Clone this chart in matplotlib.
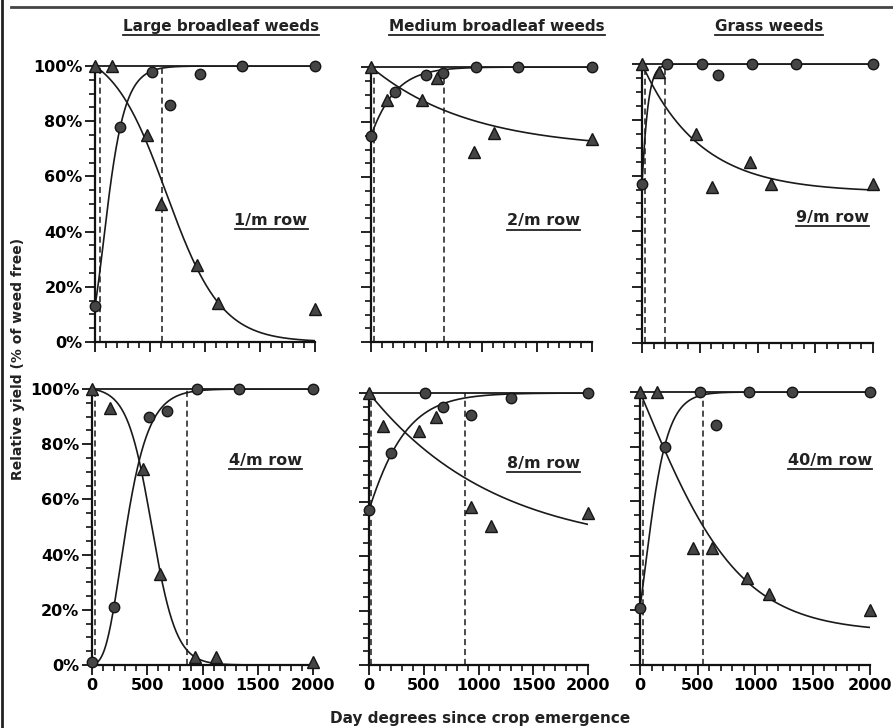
import matplotlib
matplotlib.use('Agg')
import matplotlib.pyplot as plt
from matplotlib.lines import Line2D
from matplotlib.ticker import MultipleLocator, FuncFormatter
import numpy as np

plt.rcParams['font.family'] = 'DejaVu Sans'
plt.rcParams['font.weight'] = 'bold'

# column titles and panel labels
col_titles = ['Large broadleaf weeds', 'Medium broadleaf weeds', 'Grass weeds']
panel_labels = ['1/m row', '2/m row', '9/m row', '4/m row', '8/m row', '40/m row']

# weed-free period (circles)
free_x = [[0, 230, 520, 680, 950, 1340, 2000],
          [0, 217, 500, 650, 950, 1330, 2000],
          [0, 215, 520, 660, 950, 1330, 2000],
          [0, 200, 520, 675, 950, 1330, 2000],
          [0, 205, 510, 680, 935, 1300, 2000],
          [0, 215, 520, 665, 945, 1320, 2000]]
free_y = [[13, 78, 98, 86, 97, 100, 100],
          [75, 91, 97, 98, 100, 100, 100],
          [57, 100, 100, 96, 100, 100, 100],
          [1, 21, 90, 92, 100, 100, 100],
          [57, 78, 100, 95, 92, 98, 100],
          [21, 80, 100, 88, 100, 100, 100]]

# weedy period (triangles)
weedy_x = [[0, 150, 470, 600, 930, 1120, 2000],
           [0, 145, 460, 600, 930, 1110, 2000],
           [0, 145, 470, 605, 935, 1115, 2000],
           [0, 160, 465, 615, 930, 1120, 2000],
           [0, 130, 460, 610, 935, 1115, 2000],
           [0, 150, 465, 625, 930, 1125, 2000]]
weedy_y = [[100, 100, 75, 50, 28, 14, 12],
           [100, 88, 88, 96, 69, 76, 74],
           [100, 97, 75, 56, 65, 57, 57],
           [100, 93, 71, 33, 3, 3, 1],
           [100, 88, 86, 91, 58, 51, 56],
           [100, 100, 43, 43, 32, 26, 20]]

# fitted curves: Gompertz (b, k) for weed-free, logistic (lo, c, d) for weedy
gomp_b = [2.04, 0.2877, 0.562, 6.5, 0.562, 1.56]
gomp_k = [0.00915, 0.00514, 0.0239, 0.0072, 0.0039, 0.00912]
logi_lo = [0, 70, 54, 0, 42, 12]
logi_c = [0.004, 0.00115, 0.002, 0.009, 0.00092, 0.0023]
logi_d = [650, -3000, -3000, 540, -3000, 0]

# critical period limits (dashed lines)
crit = [[45, 610], [30, 660], [30, 195], [25, 860], [15, 875], [30, 545]]

# label positions in data units
label_pos = [(1600, 44), (1560, 44), (1650, 45), (1570, 74), (1590, 74), (1650, 75)]

W, H = 893, 728
boxes = [(95, 315, 66, 342), (371, 592, 67, 342), (642, 873, 64, 343),
         (92, 313, 389, 665), (369, 588, 393, 665), (640, 870, 392, 665)]

fig = plt.figure(figsize=(W / 100, H / 100), dpi=100)

xs = np.linspace(0, 2000, 500)
mark_fc = '#454545'
mark_ec = '#151515'
line_c = '#1a1a1a'

for i, (x0, x1, y0, y1) in enumerate(boxes):
    ax = fig.add_axes([x0 / W, 1 - y1 / H, (x1 - x0) / W, (y1 - y0) / H])
    ax.set_xlim(0, 2000)
    ax.set_ylim(0, 100)
    for s in ['top', 'right']:
        ax.spines[s].set_visible(False)
    for s in ['left', 'bottom']:
        ax.spines[s].set_linewidth(1.6)
        ax.spines[s].set_color('#111111')
    ax.xaxis.set_major_locator(MultipleLocator(500))
    ax.xaxis.set_minor_locator(MultipleLocator(100))
    ax.yaxis.set_major_locator(MultipleLocator(20))
    ax.yaxis.set_minor_locator(MultipleLocator(5))
    ax.tick_params(which='major', direction='out', length=7, width=1.3, color='#111111')
    ax.tick_params(which='minor', direction='out', length=4, width=1.2, color='#111111')
    ax.tick_params(labelsize=11.5, pad=2)
    ax.yaxis.set_major_formatter(FuncFormatter(lambda v, p: '%d%%' % v))
    if i % 3 != 0:
        ax.tick_params(labelleft=False)
    if i < 3:
        ax.tick_params(labelbottom=False)
    for lab in ax.get_xticklabels() + ax.get_yticklabels():
        lab.set_fontweight('bold')

    # 100% line
    ax.plot([0, 2000], [100, 100], color=line_c, lw=1.3, clip_on=False)
    # weed-free curve
    yf = 100 * np.exp(-gomp_b[i] * np.exp(-gomp_k[i] * xs))
    ax.plot(xs, yf, color=line_c, lw=1.2)
    # weedy curve
    lo, c, d = logi_lo[i], logi_c[i], logi_d[i]
    yw = lo + (100 - lo) * (1 + np.exp(-c * d)) / (1 + np.exp(c * (xs - d)))
    ax.plot(xs, yw, color=line_c, lw=1.2)
    # critical period
    ax.vlines(crit[i], 0, 100, colors=line_c, linestyles=(0, (4, 2.5)), lw=1.1)

    ax.plot(free_x[i], free_y[i], 'o', ms=7.5, mfc=mark_fc, mec=mark_ec, mew=1,
            clip_on=False, zorder=5)
    ax.plot(weedy_x[i], weedy_y[i], '^', ms=8.5, mfc=mark_fc, mec=mark_ec, mew=1,
            clip_on=False, zorder=5)

    lx, ly = label_pos[i]
    t = ax.text(lx, ly, panel_labels[i], ha='center', va='center',
                fontsize=11.5, fontweight='bold', color='#222222')
    t.set_gid('ul')

title_x = [0.2475, 0.5566, 0.861]
for tx, ttl in zip(title_x, col_titles):
    t = fig.text(tx, 0.963, ttl, ha='center', va='center', fontsize=11,
                 fontweight='bold', color='#222222')
    t.set_gid('ul')

fig.text(0.5375, 0.0137, 'Day degrees since crop emergence', ha='center',
         va='center', fontsize=11, fontweight='bold', color='#222222')
fig.text(0.02, 0.507, 'Relative yield (% of weed free)', ha='center',
         va='center', rotation=90, fontsize=10, fontweight='bold', color='#222222')

# underline titles and panel labels
fig.canvas.draw()
r = fig.canvas.get_renderer()
texts = [t for t in fig.texts if t.get_gid() == 'ul']
for ax in fig.axes:
    texts += [t for t in ax.texts if t.get_gid() == 'ul']
for t in texts:
    bb = t.get_window_extent(r)
    yline = (bb.y0 - 1) / H
    fig.add_artist(Line2D([bb.x0 / W, bb.x1 / W], [yline, yline],
                          color='#222222', lw=1.3))

# window frame
fig.add_artist(Line2D([0.012, 1.0], [1 - 7 / H, 1 - 7 / H], color='#444444', lw=2))
fig.add_artist(Line2D([2 / W, 2 / W], [0, 1], color='#222222', lw=2))

fig.savefig('out.png', dpi=100)
